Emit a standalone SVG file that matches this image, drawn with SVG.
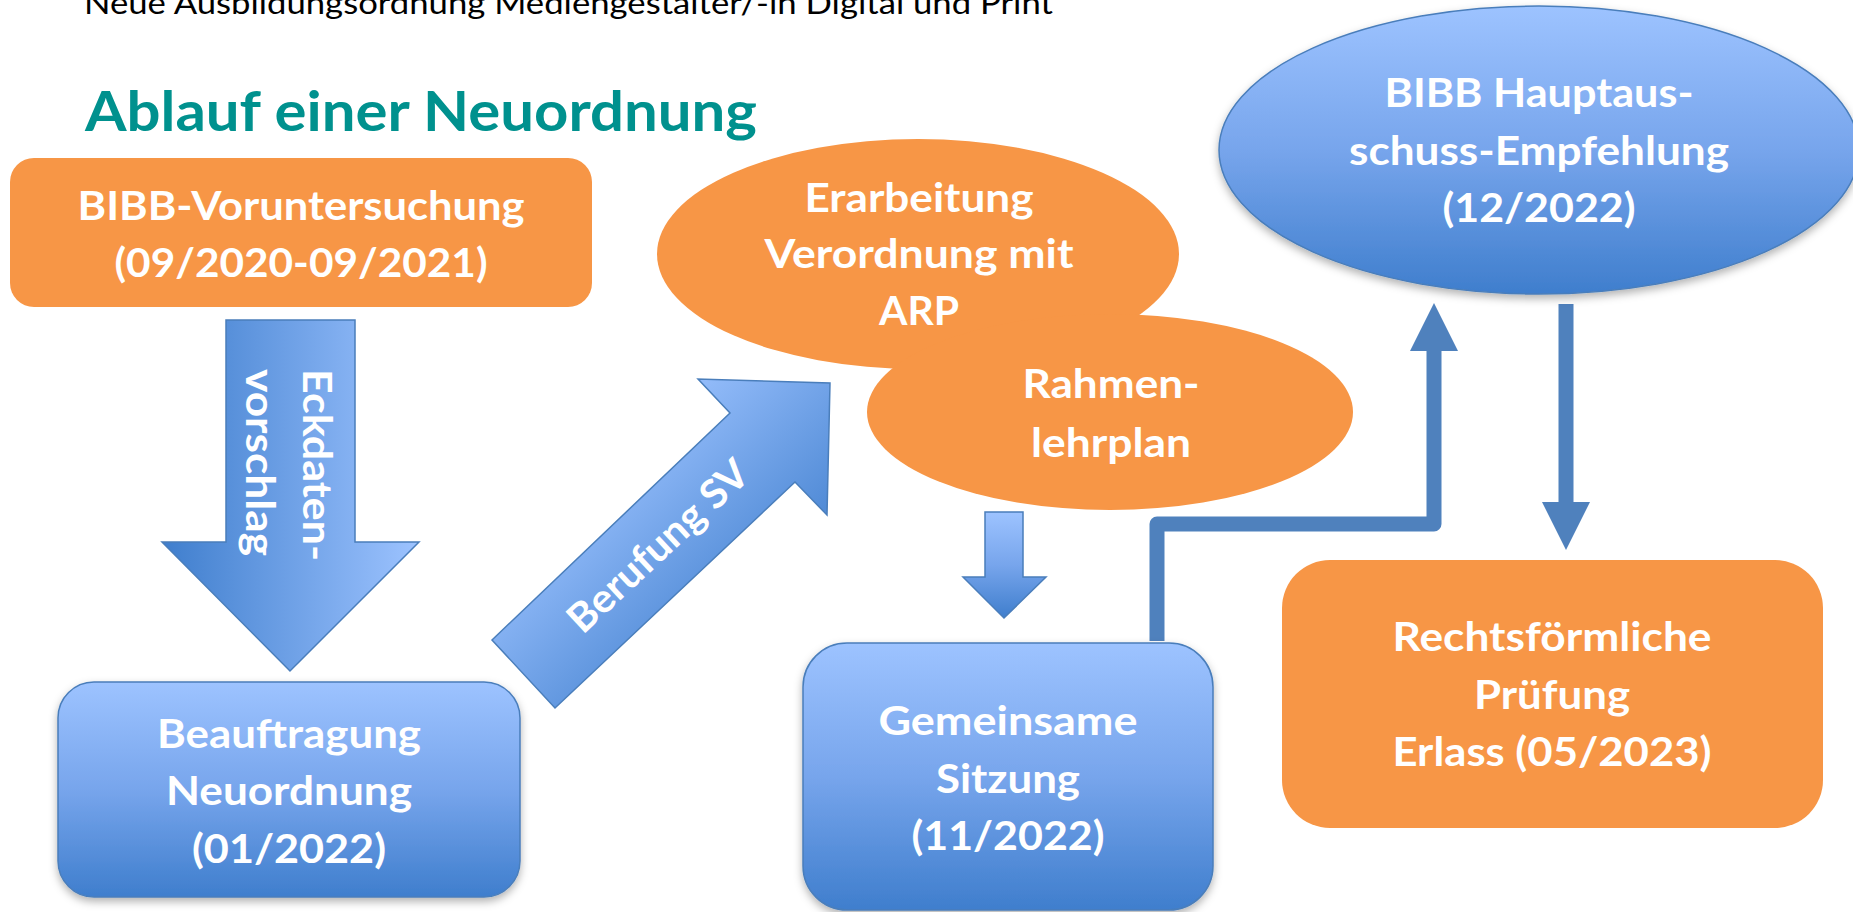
<svg xmlns="http://www.w3.org/2000/svg" width="1853" height="912" viewBox="0 0 1853 912">
<defs>
<style>
.t{font-family:Lato,"Open Sans","Liberation Sans",sans-serif;font-weight:bold;font-size:40px;fill:#fff;text-anchor:middle}
.orange{fill:#F79646}
.bluebox{fill:url(#gv);stroke:#4A7EBB;stroke-width:1.5;filter:url(#sh)}
.conn{fill:none;stroke:#4F81BD;stroke-width:15}
</style>
<linearGradient id="gv" x1="0" y1="0" x2="0" y2="1">
<stop offset="0" stop-color="#9DC3FF"/><stop offset="0.5" stop-color="#77A5EC"/><stop offset="1" stop-color="#3F7ECD"/>
</linearGradient>
<linearGradient id="gh" x1="0" y1="0" x2="1" y2="0">
<stop offset="0" stop-color="#3F7ECD"/><stop offset="1" stop-color="#9DC3FF"/>
</linearGradient>
<linearGradient id="gd" x1="0" y1="0" x2="1" y2="1">
<stop offset="0.25" stop-color="#9DC3FF"/><stop offset="0.8" stop-color="#3F7ECD"/>
</linearGradient>
<filter id="sh" x="-10%" y="-10%" width="120%" height="125%">
<feDropShadow dx="0" dy="4" stdDeviation="4" flood-color="#000" flood-opacity="0.3"/>
</filter>
<marker id="ah" markerUnits="userSpaceOnUse" viewBox="0 0 48 48" markerWidth="48" markerHeight="48" refX="0" refY="24" orient="auto">
<path d="M0,0 L48,24 L0,48 Z" fill="#4F81BD"/>
</marker>
</defs>
<rect width="1853" height="912" fill="#fff"/>

<text x="84" y="14" textLength="969" lengthAdjust="spacingAndGlyphs" style="font-family:Lato,'Open Sans','Liberation Sans',sans-serif;font-size:31px;fill:#000">Neue Ausbildungsordnung Mediengestalter/-in Digital und Print</text>
<text x="85" y="131" textLength="672" lengthAdjust="spacingAndGlyphs" style="font-family:Lato,'Open Sans','Liberation Sans',sans-serif;font-weight:bold;font-size:55px;fill:#00918E">Ablauf einer Neuordnung</text>

<g id="connectors">
<g id="arrow-eckdaten">
<polygon points="226,320 355,320 355,542 419,542 290,671 162,542 226,542" fill="url(#gh)" stroke="#4A7EBB" stroke-width="1.5"/>
<text class="t" style="text-anchor:start" transform="translate(303,369) rotate(90)" textLength="192" lengthAdjust="spacingAndGlyphs">Eckdaten-</text>
<text class="t" style="text-anchor:start" transform="translate(246,369) rotate(90)" textLength="187" lengthAdjust="spacingAndGlyphs">vorschlag</text>
</g>
<g id="arrow-berufung">
<polygon points="492,640 730,413 698,379 830,383 827,515 795,482 555,708" fill="url(#gd)" stroke="#4A7EBB" stroke-width="1.5"/>
<text class="t" transform="translate(658,546) rotate(-43)" y="14" textLength="232" lengthAdjust="spacingAndGlyphs">Berufung SV</text>
</g>
<g id="arrow-small">
<polygon points="985,512 1023,512 1023,577 1046,577 1004,618 963,577 985,577" fill="url(#gv)" stroke="#4A7EBB" stroke-width="1.5"/>
</g>
<path class="conn" d="M1157,641 V524 H1434 V351" stroke-linejoin="round" marker-end="url(#ah)"/>
<path class="conn" d="M1566,304 V502" marker-end="url(#ah)"/>
</g>

<g id="node-voruntersuchung">
<rect class="orange" x="10" y="158" width="582" height="149" rx="24"/>
<text class="t" x="301" y="220" textLength="447" lengthAdjust="spacingAndGlyphs">BIBB-Voruntersuchung</text>
<text class="t" x="301" y="277" textLength="373" lengthAdjust="spacingAndGlyphs">(09/2020-09/2021)</text>
</g>

<g id="node-beauftragung">
<rect class="bluebox" x="58" y="682" width="462" height="215" rx="36"/>
<text class="t" x="289" y="748" textLength="264" lengthAdjust="spacingAndGlyphs">Beauftragung</text>
<text class="t" x="289" y="805" textLength="246" lengthAdjust="spacingAndGlyphs">Neuordnung</text>
<text class="t" x="289" y="863" textLength="194" lengthAdjust="spacingAndGlyphs">(01/2022)</text>
</g>

<g id="node-erarbeitung">
<ellipse class="orange" cx="918" cy="254" rx="261" ry="115"/>
<text class="t" x="919" y="212" textLength="229" lengthAdjust="spacingAndGlyphs">Erarbeitung</text>
<text class="t" x="919" y="268" textLength="309" lengthAdjust="spacingAndGlyphs">Verordnung mit</text>
<text class="t" x="919" y="325" textLength="80" lengthAdjust="spacingAndGlyphs">ARP</text>
</g>

<g id="node-rahmenlehrplan">
<ellipse class="orange" cx="1110" cy="412" rx="243" ry="98"/>
<text class="t" x="1111" y="398" textLength="177" lengthAdjust="spacingAndGlyphs">Rahmen-</text>
<text class="t" x="1111" y="457" textLength="160" lengthAdjust="spacingAndGlyphs">lehrplan</text>
</g>

<g id="node-sitzung">
<rect class="bluebox" x="803" y="643" width="410" height="267" rx="44"/>
<text class="t" x="1008" y="735" textLength="259" lengthAdjust="spacingAndGlyphs">Gemeinsame</text>
<text class="t" x="1008" y="793" textLength="144" lengthAdjust="spacingAndGlyphs">Sitzung</text>
<text class="t" x="1008" y="850" textLength="193" lengthAdjust="spacingAndGlyphs">(11/2022)</text>
</g>

<g id="node-hauptausschuss">
<ellipse class="bluebox" cx="1539" cy="150" rx="320" ry="144"/>
<text class="t" x="1539" y="107" textLength="309" lengthAdjust="spacingAndGlyphs">BIBB Hauptaus-</text>
<text class="t" x="1539" y="165" textLength="380" lengthAdjust="spacingAndGlyphs">schuss-Empfehlung</text>
<text class="t" x="1539" y="222" textLength="193" lengthAdjust="spacingAndGlyphs">(12/2022)</text>
</g>

<g id="node-pruefung">
<rect class="orange" x="1282" y="560" width="541" height="268" rx="48"/>
<text class="t" x="1552" y="651" textLength="319" lengthAdjust="spacingAndGlyphs">Rechtsförmliche</text>
<text class="t" x="1552" y="709" textLength="156" lengthAdjust="spacingAndGlyphs">Prüfung</text>
<text class="t" x="1552" y="766" textLength="319" lengthAdjust="spacingAndGlyphs">Erlass (05/2023)</text>
</g>
</svg>
